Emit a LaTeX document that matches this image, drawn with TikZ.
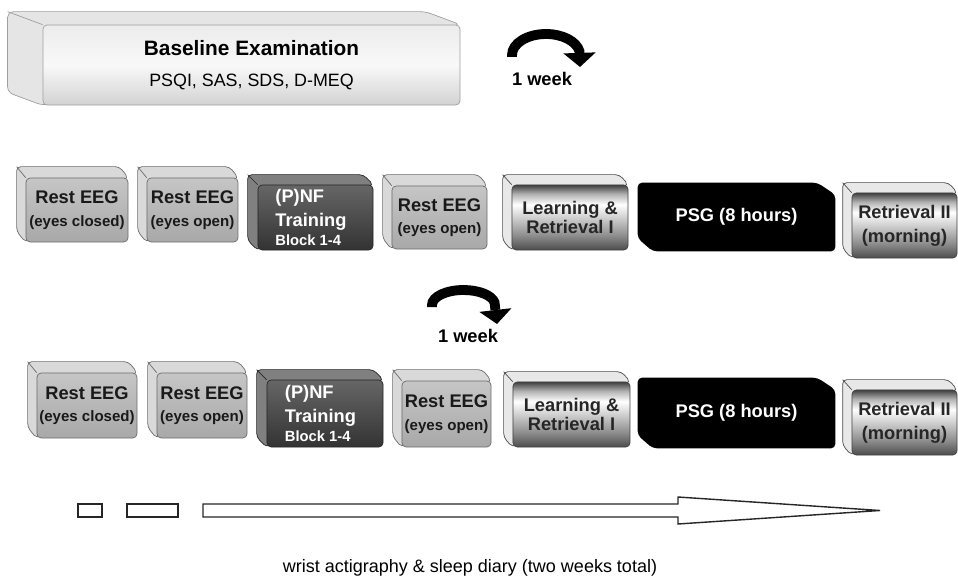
\documentclass[tikz,border=0pt]{standalone}
\usepackage{fontspec}
\setmainfont{Liberation Sans}
\usetikzlibrary{arrows.meta,backgrounds}

\pgfdeclareverticalshading{metal}{100bp}{color(0bp)=(black!70); color(25bp)=(black!70); color(36bp)=(black!45); color(60bp)=(white); color(68bp)=(black!30); color(75bp)=(black!75); color(100bp)=(black!75)}

\newcommand{\subtext}[1]{{\fontsize{10.7}{13}\selectfont #1}}
% slanted back face of a box, drawn behind the node
\newcommand{\bevel}[4]{%
  \draw[#4] (#1.center) -- (#1.south west) -- ([shift={(-#2,-#3)}]#1.south west)
    -- ([shift={(-#2,-#3)}]#1.north west) -- ([shift={(-#2,-#3)}]#1.north east)
    -- (#1.north east) -- cycle;
  \draw[#4, fill=none] ([shift={(-#2,-#3)}]#1.north west) -- (#1.north west);}
% the cut corners of the PSG block
\newcommand{\chamfer}[1]{%
  \fill[black, rounded corners=3pt] (#1.north west) -- ([shift={(-18,0)}]#1.north east)
    -- ([shift={(0,12)}]#1.north east) -- (#1.south east) -- ([shift={(15,0)}]#1.south west)
    -- ([shift={(0,-13)}]#1.south west) -- cycle;}

\tikzset{
  boxsize/.style 2 args={minimum width=#1cm, minimum height=#2cm},
  box/.style={inner sep=0pt, rounded corners=3pt, line width=0.5pt, align=center,
    font=\bfseries\fontsize{13}{16}\selectfont},
  restbox/.style={box, draw=gray!85!black, top color=gray!45, bottom color=gray!68, text=black!90},
  nfbox/.style={box, draw=black!85, top color=black!60, bottom color=black!80, text=white,
    text width=57pt, align=flush left},
  metalbox/.style={box, draw=black!75, shading=metal, text=black!85},
  psgbox/.style={inner sep=0pt, text=white, font=\bfseries\fontsize{13}{16}\selectfont},
  basebox/.style={box, draw=gray!75, top color=gray!15, bottom color=gray!35,
    middle color=white!95!gray, font=\fontsize{12.7}{22}\selectfont},
  restbevel/.style={fill=gray!30, draw=gray!85!black, line width=0.5pt, rounded corners=3pt},
  nfbevel/.style={fill=black!50, draw=black!85, line width=0.5pt, rounded corners=3pt},
  metalbevel/.style={fill=gray!18, draw=black!70, line width=0.5pt, rounded corners=3pt},
  basebevel/.style={fill=gray!20, draw=gray!75, line width=0.5pt, rounded corners=4pt},
  weekarrow/.style={line width=7pt, -{Triangle[length=10pt, width=23pt, line width=0pt]}},
  weeklabel/.style={font=\bfseries\fontsize{13}{16}\selectfont},
  diary/.style={draw=black!85, line width=1pt, fill=white}
}

\begin{document}
\begin{tikzpicture}[x=0.025cm, y=-0.025cm]
    \useasboundingbox (0, 0) rectangle (958, 584);
    % baseline examination
    \node[basebox, boxsize={10.425}{2.0}] (base) at(251.5, 65)
        {{\fontsize{14.8}{18}\selectfont\bfseries Baseline Examination}\\PSQI, SAS, SDS, D-MEQ};
    \coordinate (turn1) at(512, 57);
    \draw[weekarrow] (turn1) -- ++(0, -2) arc[start angle=180, end angle=350, x radius=34, y radius=21] -- ++(0.5, 15.6);
    \node[weeklabel] (week1) at(542, 79) {1 week};
    % first session
    \node[restbox, boxsize={2.55}{1.6}] (eegc1) at(77, 210) {Rest EEG\\\subtext{(eyes closed)}};
    \node[restbox, boxsize={2.275}{1.6}] (eego1) at(192.5, 210) {Rest EEG\\\subtext{(eyes open)}};
    \node[nfbox, boxsize={2.875}{1.625}] (nf1) at(315.5, 217.5)
        {(P)NF\\[1pt]Training\\[-3pt]{\fontsize{10.5}{12}\selectfont Block 1-4}};
    \node[restbox, boxsize={2.375}{1.575}] (eegp1) at(439.5, 217.5) {Rest EEG\\\subtext{(eyes open)}};
    \node[metalbox, boxsize={2.9}{1.625}] (learn1) at(570, 217.5) {Learning \&\\[-2pt]Retrieval I};
    \node[psgbox, boxsize={4.925}{1.7}] (psg1) at(736.5, 217) {PSG (8 hours)};
    \node[metalbox, boxsize={2.625}{1.625}] (ret1) at(904.5, 225.5) {Retrieval II\\[1pt](morning)};
    \coordinate (turn2) at(432, 307);
    \draw[weekarrow] (turn2) -- ++(0, -2) arc[start angle=180, end angle=350, x radius=31.5, y radius=15] -- ++(2.5, 21.6);
    \node[weeklabel] (week2) at(468, 336) {1 week};
    % second session
    \node[restbox, boxsize={2.5}{1.625}] (eegc2) at(87, 405.5) {Rest EEG\\\subtext{(eyes closed)}};
    \node[restbox, boxsize={2.25}{1.625}] (eego2) at(202, 405.5) {Rest EEG\\\subtext{(eyes open)}};
    \node[nfbox, boxsize={2.9}{1.675}] (nf2) at(325, 413.5)
        {(P)NF\\[1pt]Training\\[-3pt]{\fontsize{10.5}{12}\selectfont Block 1-4}};
    \node[restbox, boxsize={2.225}{1.65}] (eegp2) at(446.5, 414) {Rest EEG\\\subtext{(eyes open)}};
    \node[metalbox, boxsize={2.925}{1.625}] (learn2) at(571.5, 414.5) {Learning \&\\[-2pt]Retrieval I};
    \node[psgbox, boxsize={4.925}{1.75}] (psg2) at(736.5, 413) {PSG (8 hours)};
    \node[metalbox, boxsize={2.625}{1.625}] (ret2) at(904.5, 422.5) {Retrieval II\\[1pt](morning)};
    % back faces
    \begin{scope}[on background layer]
    \bevel{base}{35}{13}{basebevel}
    \bevel{eegc1}{9}{11}{restbevel}
    \bevel{eego1}{9}{11}{restbevel}
    \bevel{nf1}{10}{10}{nfbevel}
    \bevel{eegp1}{9}{11}{restbevel}
    \bevel{learn1}{9}{10}{metalbevel}
    \chamfer{psg1}
    \bevel{ret1}{9}{10}{metalbevel}
    \bevel{eegc2}{9}{11}{restbevel}
    \bevel{eego2}{9}{11}{restbevel}
    \bevel{nf2}{10}{10}{nfbevel}
    \bevel{eegp2}{9}{11}{restbevel}
    \bevel{learn2}{9}{10}{metalbevel}
    \chamfer{psg2}
    \bevel{ret2}{9}{10}{metalbevel}
    \end{scope}
    % actigraphy
    \draw[diary] (78, 504) rectangle (102, 517);
    \draw[diary] (127, 504) rectangle (178, 517);
    \draw[diary] (203, 504) -- (678, 504) -- (678, 497) -- (880, 510.5) -- (678, 524) -- (678, 517) -- (203, 517) -- cycle;
    \node[font=\fontsize{12.8}{15}\selectfont] (wrist) at(470, 568) {wrist actigraphy \& sleep diary (two weeks total)};
\end{tikzpicture}
\end{document}
